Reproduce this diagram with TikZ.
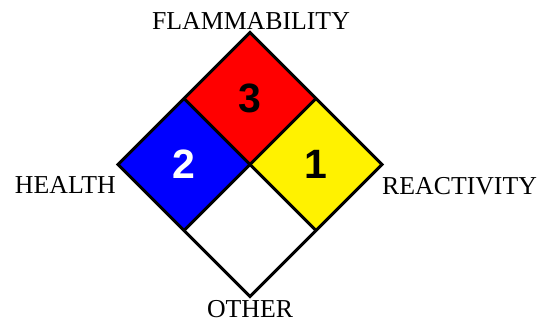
\documentclass[tikz,border=0pt]{standalone}
\usepackage{fontspec}
\setmainfont{Liberation Serif}
\newfontfamily\digitfont{Liberation Sans}
\begin{document}
\begin{tikzpicture}[x=1pt,y=-1pt,
  panel/.style={draw=black,line width=3pt,line join=miter},
  lbl/.style={inner sep=0pt,font=\fontsize{25.8}{30}\selectfont},
  num/.style={inner sep=0pt,font=\digitfont\bfseries\fontsize{41}{48}\selectfont}]
\useasboundingbox (0,0) rectangle (540,322);
\coordinate (T) at (250,32.5);
\coordinate (L) at (118,164.5);
\coordinate (R) at (382,164.5);
\coordinate (B) at (250,296.5);
\coordinate (C) at (250,164.5);
\coordinate (TL) at (184,98.5);
\coordinate (TR) at (316,98.5);
\coordinate (BL) at (184,230.5);
\coordinate (BR) at (316,230.5);
\fill[red] (T) -- (TR) -- (C) -- (TL) -- cycle;
\fill[blue] (TL) -- (C) -- (BL) -- (L) -- cycle;
\fill[yellow] (TR) -- (R) -- (BR) -- (C) -- cycle;
\fill[white] (C) -- (BR) -- (B) -- (BL) -- cycle;
\draw[panel] (T) -- (R) -- (B) -- (L) -- cycle;
\draw[panel] (TL) -- (BR);
\draw[panel] (TR) -- (BL);
\node[num,text=black] (n3) at (250,98.5) {3};
\node[num,text=white] (n2) at (184,164.5) {2};
\node[num,text=black] (n1) at (316,164.5) {1};
\node[lbl,anchor=base] (flam) at (251,29.5) {FLAMMABILITY};
\node[lbl,anchor=base east] (health) at (116,193) {HEALTH};
\node[lbl,anchor=base west] (react) at (382,194) {REACTIVITY};
\node[lbl,anchor=base] (other) at (250,317.5) {OTHER};
\end{tikzpicture}
\end{document}
